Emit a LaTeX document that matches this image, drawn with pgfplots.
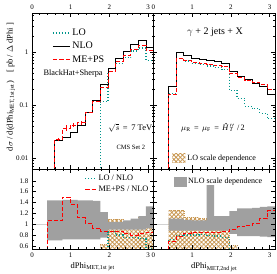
\documentclass[border=0pt]{standalone}
\usepackage{fontspec}
\setmainfont{Liberation Serif}
\usepackage{pgfplots}
\pgfplotsset{compat=1.18}
\usetikzlibrary{patterns.meta}
\definecolor{lotel}{RGB}{0,150,140}
\definecolor{mepsred}{RGB}{255,0,0}
\definecolor{bandgray}{RGB}{160,160,160}
\definecolor{tanc}{RGB}{200,150,80}
\tikzset{
 lohatch/.style={pattern={Hatch[angle=45,distance=3pt,line width=0.8pt]}, pattern color=tanc, draw=none},
 lgLO/.style={draw=lotel, line width=1.2pt, dash pattern=on 0.9pt off 2.1pt},
 lgNLO/.style={draw=black, line width=0.8pt},
}
\pgfplotsset{
 panel/.style={scale only axis, width=121.5pt, xmin=0, xmax=3.14159,
   xtick={0,1,2,3}, xticklabels={0,1,2,3}, minor x tick num=4,
   tick align=inside, major tick length=4pt, minor tick length=2pt,
   axis line style={line width=0.9pt}, every tick/.style={black, line width=0.5pt},
   tick label style={font=\fontsize{7}{7}\selectfont}, axis on top},
 nlo/.style={draw=black, line width=0.8pt, const plot},
 meps/.style={draw=mepsred, line width=0.8pt, dash pattern=on 4pt off 2pt, const plot},
 lo/.style={draw=lotel, line width=1.2pt, dash pattern=on 0.9pt off 2.1pt, const plot},
 loedge/.style={draw=tanc, line width=0.6pt, dash pattern=on 1pt off 1pt, const plot},
}
\begin{document}
\begin{tikzpicture}[x=1pt,y=1pt]
\useasboundingbox (0,0) rectangle (277,274);
% ---------------- top left
\begin{axis}[panel, at={(32pt,105pt)}, anchor=south west, height=156pt,
  ymode=log, ymin=0.0062, ymax=5.4, log ticks with fixed point,
  /pgf/number format/assume math mode=true,
  xticklabel pos=upper, yticklabel pos=left,
  ylabel={d$\sigma$ / d(dPhi\textsubscript{MET,1st jet})\quad [ pb / $\Delta$ dPhi ]},
  ylabel style={at={(rel axis cs:-0.173,0.526)}, anchor=center, font=\fontsize{8.5}{9}\selectfont},
  legend style={draw=none, fill=none, at={(rel axis cs:0.14,0.925)}, anchor=north west,
    font=\fontsize{10}{10}\selectfont, row sep=1.2pt}, legend cell align=left]
\addlegendimage{legend image code/.code={\draw[lgLO] (0pt,0pt) -- (17pt,0pt);}}\addlegendentry{LO}
\addlegendimage{legend image code/.code={\draw[lgNLO] (0pt,0pt) -- (17pt,0pt);}}\addlegendentry{NLO}
\addlegendimage{legend image code/.code={\draw[color=red, draw=red, line width=1pt, dash pattern=on 4.5pt off 2pt] (0pt,0pt) -- (17pt,0pt);}}\addlegendentry{ME+PS}
\addplot[lo, forget plot] coordinates {(1.76715,0.0001) (1.76715,0.115) (1.96350,0.42) (2.15984,0.6) (2.35619,0.79) (2.55254,1.04) (2.74889,1.18) (2.94524,0.68) (3.14159,0.68)};
\addplot[nlo, forget plot] coordinates {(0.58905,0.0001) (0.58905,0.021) (0.78540,0.0243) (0.98175,0.031) (1.17810,0.041) (1.37445,0.072) (1.57080,0.124) (1.76715,0.248) (1.96350,0.488) (2.15984,0.75) (2.35619,1.04) (2.55254,1.39) (2.74889,1.61) (2.94524,1.24) (3.14159,1.24)};
\addplot[meps, forget plot] coordinates {(0.58905,0.0001) (0.58905,0.0223) (0.78540,0.0365) (0.98175,0.042) (1.17810,0.046) (1.37445,0.073) (1.57080,0.115) (1.76715,0.213) (1.96350,0.42) (2.15984,0.65) (2.35619,0.85) (2.55254,1.11) (2.74889,1.32) (2.94524,1.05) (3.14159,1.05)};
\addplot[draw=none, mark=none, forget plot, error bars/.cd, y dir=both, y explicit, error mark=none,
  error bar style={draw=mepsred, line width=0.7pt, solid}] coordinates {
  (0.6872,0.0223) +- (0,0.0015) (0.8836,0.0365) +- (0,0.0045) (1.0799,0.042) +- (0,0.004) (1.2763,0.046) +- (0,0.004)};
\node[anchor=west, font=\fontsize{8.3}{9}\selectfont] at (rel axis cs:0.066,0.615) {BlackHat+Sherpa};
\node[anchor=west, font=\fontsize{8.5}{9}\selectfont] at (rel axis cs:0.6,0.263) {$\sqrt{s}$ \,=\, 7 TeV};
\node[anchor=west, font=\fontsize{6.5}{7}\selectfont] at (rel axis cs:0.667,0.141) {CMS Set 2};
\end{axis}
% ---------------- top right
\begin{axis}[panel, at={(153.5pt,105pt)}, anchor=south west, height=156pt,
  ymode=log, ymin=0.0062, ymax=5.4, yticklabels={},
  xticklabel pos=upper,
  legend style={draw=none, fill=none, at={(rel axis cs:0.13,0.07)}, anchor=west,
    font=\fontsize{8}{8}\selectfont}, legend cell align=left]
\addlegendimage{legend image code/.code={\fill[lohatch] (0pt,-4.5pt) rectangle (13pt,4.5pt);}}
\addlegendentry{LO scale dependence}
\addplot[lo, forget plot] coordinates {(0.39270,0.0001) (0.39270,0.163) (0.58905,0.76) (0.78540,0.67) (0.98175,0.61) (1.17810,0.58) (1.37445,0.54) (1.57080,0.51) (1.76715,0.46) (1.96350,0.19) (2.15984,0.133) (2.35619,0.095) (2.55254,0.085) (2.74889,0.07) (2.94524,0.055) (3.14159,0.055)};
\addplot[nlo, forget plot] coordinates {(0.39270,0.0001) (0.39270,0.227) (0.58905,0.97) (0.78540,0.84) (0.98175,0.76) (1.17810,0.72) (1.37445,0.68) (1.57080,0.65) (1.76715,0.61) (1.96350,0.43) (2.15984,0.35) (2.35619,0.30) (2.55254,0.26) (2.74889,0.22) (2.94524,0.16) (3.14159,0.16)};
\addplot[meps, forget plot] coordinates {(0.39270,0.0001) (0.39270,0.155) (0.58905,0.757) (0.78540,0.70) (0.98175,0.64) (1.17810,0.605) (1.37445,0.58) (1.57080,0.55) (1.76715,0.525) (1.96350,0.387) (2.15984,0.333) (2.35619,0.294) (2.55254,0.265) (2.74889,0.242) (2.94524,0.2) (3.14159,0.2)};
\node[font=\fontsize{10}{10}\selectfont] at (rel axis cs:0.506,0.878) {$\gamma$ + 2 jets + X};
\node[font=\fontsize{8.2}{9}\selectfont] at (rel axis cs:0.49,0.263) {$\mu_{\mathrm{R}}$\ \,=\ \,$\mu_{\mathrm{F}}$\ \,=\ \,\textit{Ĥ}\rlap{\textsuperscript{\,$\prime\prime$}}\textsubscript{\,\textit{T}}\ \,/\,2};
\end{axis}
% ---------------- bottom left
\begin{axis}[panel, at={(32pt,25pt)}, anchor=south west, height=80pt,
  ymin=0.54, ymax=2.02, ytick={0.6,0.8,1,1.2,1.4,1.6,1.8},
  yticklabels={0.6,0.8,1,1.2,1.4,1.6,1.8}, minor y tick num=1,
  xticklabel pos=lower, yticklabel pos=left,
  xlabel={dPhi\textsubscript{MET,1st jet}},
  xlabel style={at={(rel axis cs:0.5,-0.225)}, anchor=center, font=\fontsize{8.5}{9}\selectfont},
  legend style={draw=none, fill=none, at={(rel axis cs:0.405,0.975)}, anchor=north west,
    font=\fontsize{8.3}{8.3}\selectfont, row sep=0pt}, legend cell align=left]
\addlegendimage{legend image code/.code={\draw[lgLO] (0pt,0pt) -- (11pt,0pt);}}\addlegendentry{LO / NLO}
\addlegendimage{legend image code/.code={\draw[color=red, draw=red, line width=1pt, dash pattern=on 4.5pt off 2pt] (0pt,0pt) -- (11pt,0pt);}}\addlegendentry{ME+PS / NLO}
\addplot[gray!35, line width=0.4pt, forget plot] coordinates {(0,1) (3.14159,1)};
% LO scale band
\addplot[lohatch, forget plot] coordinates {(1.76715,0.62) (1.96350,0.62) (1.96350,1.09) (2.35619,1.09) (2.35619,1.04) (2.74889,1.04) (2.74889,1.13) (2.94524,1.13) (2.94524,1.02) (3.14159,1.02) (3.14159,0.40) (2.94524,0.40) (2.94524,0.45) (1.96350,0.45) (1.96350,0.33) (1.76715,0.33)};
\addplot[loedge, forget plot] coordinates {(1.76715,0.62) (1.96350,1.09) (2.15984,1.09) (2.35619,1.04) (2.55254,1.04) (2.74889,1.13) (2.94524,1.02) (3.14159,1.02)};
% NLO scale band
\addplot[fill=bandgray, draw=none, forget plot] coordinates {(0.39270,1.44) (0.78540,1.44) (0.78540,1.45) (1.17810,1.45) (1.17810,1.44) (1.57080,1.44) (1.57080,1.43) (1.76715,1.43) (1.76715,1.22) (1.96350,1.22) (1.96350,1.04) (2.35619,1.04) (2.35619,1.07) (2.55254,1.07) (2.55254,1.10) (2.74889,1.10) (2.74889,1.15) (2.94524,1.15) (2.94524,1.33) (3.14159,1.33) (3.14159,0.92) (2.94524,0.92) (2.94524,0.90) (1.96350,0.90) (1.96350,0.75) (1.76715,0.75) (1.76715,0.72) (0.78540,0.72) (0.78540,0.70) (0.39270,0.70)};
\addplot[lo, forget plot] coordinates {(1.96350,0.3) (1.96350,0.86) (2.15984,0.8) (2.35619,0.76) (2.55254,0.75) (2.74889,0.73) (2.94524,0.55) (3.14159,0.55)};
\addplot[meps, forget plot] coordinates {(0.39270,0.3) (0.39270,1.06) (0.58905,1.06) (0.78540,1.5) (0.98175,1.36) (1.17810,1.12) (1.37445,1.02) (1.57080,0.93) (1.76715,0.86) (1.96350,0.86) (2.15984,0.87) (2.35619,0.82) (2.55254,0.8) (2.74889,0.82) (2.94524,0.85) (3.14159,0.85)};
\end{axis}
% ---------------- bottom right
\begin{axis}[panel, at={(153.5pt,25pt)}, anchor=south west, height=80pt,
  ymin=0.54, ymax=2.02, ytick={0.6,0.8,1,1.2,1.4,1.6,1.8}, yticklabels={},
  minor y tick num=1, xticklabel pos=lower,
  xlabel={dPhi\textsubscript{MET,2nd jet}},
  xlabel style={at={(rel axis cs:0.5,-0.225)}, anchor=center, font=\fontsize{8.5}{9}\selectfont},
  legend style={draw=none, fill=none, at={(rel axis cs:0.14,0.84)}, anchor=west,
    font=\fontsize{8}{8}\selectfont}, legend cell align=left]
\addlegendimage{legend image code/.code={\fill[bandgray] (0pt,-4.5pt) rectangle (12pt,4.5pt);}}
\addlegendentry{NLO scale dependence}
\addplot[gray!35, line width=0.4pt, forget plot] coordinates {(0,1) (3.14159,1)};
% LO scale band
\addplot[lohatch, forget plot] coordinates {(0.39270,1.26) (0.78540,1.26) (0.78540,1.12) (1.17810,1.12) (1.17810,1.10) (1.37445,1.10) (1.37445,1.08) (1.57080,1.08) (1.57080,1.12) (1.96350,1.12) (1.96350,0.60) (2.15984,0.60) (2.15984,0.30) (1.96350,0.30) (1.96350,0.45) (1.76715,0.45) (1.76715,0.50) (1.37445,0.50) (1.37445,0.52) (0.78540,0.52) (0.78540,0.50) (0.39270,0.50)};
\addplot[loedge, forget plot] coordinates {(0.39270,1.26) (0.58905,1.26) (0.78540,1.12) (0.98175,1.12) (1.17810,1.10) (1.37445,1.08) (1.57080,1.12) (1.76715,1.12) (1.96350,0.60) (2.15984,0.60)};
% NLO scale band
\addplot[fill=bandgray, draw=none, forget plot] coordinates {(0.39270,1.10) (0.78540,1.10) (0.78540,1.08) (0.98175,1.08) (0.98175,1.07) (1.37445,1.07) (1.37445,1.72) (1.57080,1.72) (1.57080,1.15) (1.96350,1.15) (1.96350,1.24) (2.15984,1.24) (2.15984,1.29) (2.55254,1.29) (2.55254,1.30) (2.74889,1.30) (2.74889,1.32) (2.94524,1.32) (2.94524,1.33) (3.14159,1.33) (3.14159,0.76) (2.94524,0.76) (2.94524,0.77) (2.74889,0.77) (2.74889,0.78) (2.15984,0.78) (2.15984,0.82) (1.96350,0.82) (1.96350,0.88) (0.39270,0.88)};
\addplot[lo, forget plot] coordinates {(0.39270,0.3) (0.39270,0.72) (0.58905,0.78) (0.78540,0.80) (0.98175,0.80) (1.17810,0.81) (1.37445,0.79) (1.57080,0.78) (1.76715,0.75) (1.96350,0.44) (2.15984,0.38) (3.14159,0.38)};
\addplot[meps, forget plot] coordinates {(0.39270,0.3) (0.39270,0.68) (0.58905,0.78) (0.78540,0.83) (0.98175,0.84) (1.17810,0.84) (1.37445,0.85) (1.57080,0.85) (1.76715,0.86) (1.96350,0.9) (2.15984,0.95) (2.35619,0.98) (2.55254,1.02) (2.74889,1.1) (2.94524,1.25) (3.14159,1.25)};
\end{axis}
\end{tikzpicture}
\end{document}
